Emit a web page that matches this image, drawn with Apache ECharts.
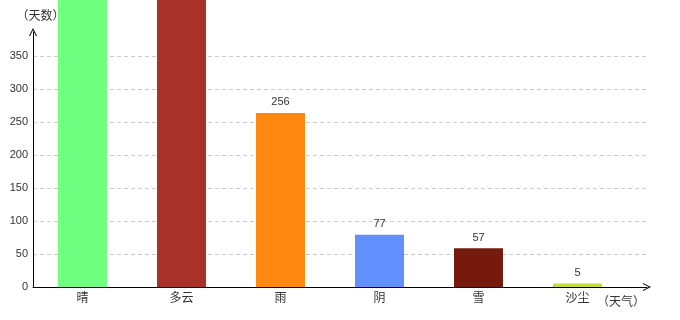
<!DOCTYPE html>
<html>
<head>
<meta charset="utf-8">
<script src="https://cdn.jsdelivr.net/npm/echarts@6/dist/echarts.min.js"></script>
<style>html,body{margin:0;padding:0;background:#fff}#c{width:680px;height:320px}</style>
</head>
<body>
<div id="c"></div>
<script>
var categories = ['晴', '多云', '雨', '阴', '雪', '沙尘'];
var days = [500, 460, 256, 77, 57, 5];
var barColors = ['#70ff80', '#a8322a', '#ff8811', '#6291ff', '#761a0e', '#c6da3c'];
var yTickMax = 350;
var yTickStep = 50;

var chevron = 'path://M0,10L5,0L10,10L8.6,10L5,2.6L1.4,10Z';
var latin = 'Liberation Sans, Arial, Noto Sans CJK SC, sans-serif';
var cjk = 'Noto Sans CJK SC, sans-serif';
var cjkName = '"Noto Sans CJK TC", sans-serif';
var barAxisMax = 375;

var chart = echarts.init(document.getElementById('c'), null, {renderer: 'canvas'});
chart.setOption({
  animation: false,
  backgroundColor: '#fff',
  grid: [
    {left: 33, right: 53, top: 32, bottom: 33},
    {left: 33, right: 33, top: 56, bottom: 33},
    {left: 33, right: 33, top: 32, bottom: 33}
  ],
  xAxis: [
    {gridIndex: 0, type: 'category', data: categories,
     axisLine: {show: false}, axisTick: {show: false},
     axisLabel: {margin: 4, fontSize: 12, color: '#333', fontFamily: cjk}},
    {gridIndex: 1, type: 'value', min: 0, max: 1, show: false},
    {gridIndex: 2, type: 'value', min: 0, max: 1,
     axisLine: {show: true, symbol: ['none', chevron], symbolSize: [8, 8],
                lineStyle: {color: '#000', width: 1}},
     axisTick: {show: false}, axisLabel: {show: false}, splitLine: {show: false},
     name: '（天气）', nameLocation: 'end', nameGap: -2,
     nameTextStyle: {fontSize: 12, color: '#333', fontFamily: cjkName,
                     align: 'right', verticalAlign: 'top', padding: [8, 0, 0, 0]}}
  ],
  yAxis: [
    {gridIndex: 0, type: 'value', min: 0, max: barAxisMax, show: false},
    {gridIndex: 1, type: 'value', min: 0, max: yTickMax, interval: yTickStep,
     axisLine: {show: false}, axisTick: {show: false},
     axisLabel: {margin: 5, fontSize: 11, color: '#333', fontFamily: latin},
     splitLine: {show: true, lineStyle: {color: '#cccccc', type: [4, 3], width: 1}}},
    {gridIndex: 2, type: 'value', min: 0, max: 386,
     axisLine: {show: true, symbol: ['none', chevron], symbolSize: [8, 8],
                lineStyle: {color: '#000', width: 1}},
     axisTick: {show: false}, axisLabel: {show: false}, splitLine: {show: false},
     name: '（天数）', nameLocation: 'end', nameGap: 11,
     nameTextStyle: {fontSize: 12, color: '#333', fontFamily: cjkName, padding: [0, 0, 0, 15]}}
  ],
  series: [{
    type: 'bar',
    xAxisIndex: 0, yAxisIndex: 0,
    clip: false,
    barWidth: 49,
    data: days.map(function (v, i) {
      return {value: v, itemStyle: {color: barColors[i]},
              label: {show: v <= barAxisMax}};
    }),
    label: {show: true, position: 'top', distance: 5, fontSize: 11,
            color: '#333', fontFamily: latin}
  }]
});
</script>
</body>
</html>
